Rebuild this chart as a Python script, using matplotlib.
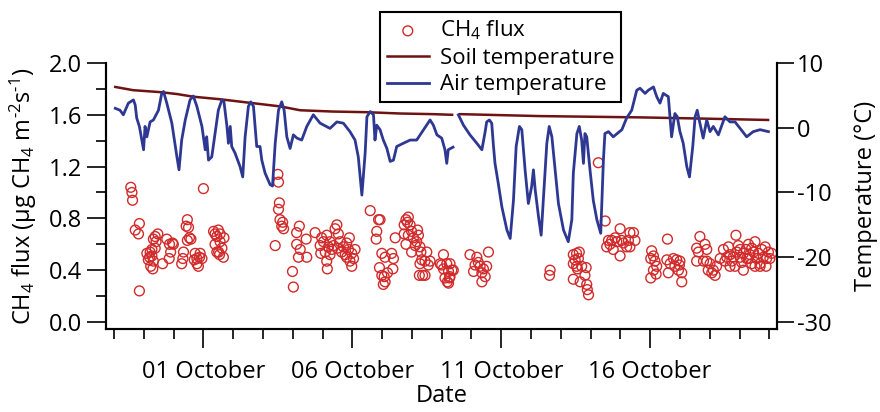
import numpy as np
import matplotlib
matplotlib.use("Agg")
import matplotlib.pyplot as plt
import matplotlib.dates as mdates
from matplotlib.ticker import MultipleLocator

plt.rcParams['font.family'] = ['Open Sans', 'DejaVu Sans']
plt.rcParams['mathtext.fontset'] = 'custom'
plt.rcParams['mathtext.rm'] = 'Open Sans'
plt.rcParams['mathtext.it'] = 'Open Sans:italic'
plt.rcParams['mathtext.bf'] = 'Open Sans:bold'

# ---- data (days counted from 30 September; 1 = 01 October) ----
soil_day = [-1.96, -1.36, -0.45, 0.12, 0.65, 1.56, 2.47, 3.57, 4.25, 5.35, 6.49, 7.60, 8.71, 9.35,
            np.nan, 9.62, 12.30, 15.66, 17.91, 19.96]
soil_temp = [6.3, 5.8, 5.5, 5.2, 4.8, 4.4, 3.9, 3.3, 2.7, 2.5, 2.4, 2.2, 2.1, 2.0,
             np.nan, 2.1, 1.8, 1.6, 1.4, 1.2]

air_day = [
    -1.96, -1.80, -1.69, -1.52, -1.35, -1.29, -1.24, -1.15, -1.07, -1.01,
    -0.96, -0.90, -0.79, -0.68, -0.51, -0.40, -0.34, -0.23, -0.06, 0.11,
    0.18, 0.27, 0.39, 0.55, 0.66, 0.78, 0.95, 1.06, 1.11, 1.17,
    1.28, 1.39, 1.50, 1.62, 1.69, 1.79, 1.84, 1.90, 1.95, 2.06,
    2.23, 2.32, 2.40, 2.51, 2.59, 2.68, 2.79, 2.90, 2.96, 3.07,
    3.24, 3.32, 3.41, 3.52, 3.63, 3.71, 3.80, 3.91, 4.02, 4.14,
    4.30, 4.47, 4.69, 4.92, 5.25, 5.48, 5.70, 5.92, 6.09, 6.20,
    6.32, 6.43, 6.49, 6.60, 6.71, 6.76, 6.82, 6.93, 7.04, 7.16,
    7.27, 7.38, 7.49, 7.71, 7.94, 8.16, 8.39, 8.61, 8.72, 8.84,
    9.00, 9.11, 9.17, 9.22, 9.38, np.nan,
    9.56, 9.73, 9.95, 10.18, 10.35, 10.46, 10.51, 10.60, 10.68, 10.74,
    10.79, 10.90, 11.02, 11.19, 11.30, 11.41, 11.50, 11.61, 11.69, 11.80,
    11.91, 12.02, 12.08, 12.14, 12.25, 12.34, 12.44, 12.53, 12.61, 12.70,
    12.81, 12.92, 13.09, 13.25, 13.37, 13.42, 13.54, 13.62, 13.70, 13.76,
    13.81, 13.87, 13.98, 14.09, 14.21, 14.34, 14.43, 14.48, 14.60, 14.76,
    15.05, 15.21, 15.38, 15.55, 15.66, 15.83, 15.94, 16.11, 16.22, 16.33,
    16.44, 16.61, 16.72, 16.83, 16.91, 17.00, 17.11, 17.23, 17.32, 17.43,
    17.51, 17.58, 17.67, 17.78, 17.90, 18.01, 18.12, 18.29, 18.51, 18.68,
    18.85, 19.02, 19.24, 19.46, 19.69, 19.97]
air_temp = [
    3.0, 2.7, 2.0, 3.8, 4.3, 3.5, 1.5, 0.2, -1.9, -3.4,
    0.2, -1.4, 0.9, 1.2, 2.7, 5.3, 5.6, 3.8, 0.7, -4.5,
    -6.5, -1.9, 1.2, 4.3, 4.9, 3.3, 0.2, -3.4, -1.4, -5.0,
    -4.5, -0.9, 2.7, 4.3, 4.0, 0.2, -2.4, 0.2, -2.9, -3.9,
    -6.0, -7.6, -1.4, 3.3, 4.0, 3.3, -2.9, -2.9, -5.0, -7.0,
    -8.8, -9.0, -2.4, 2.7, 4.0, 2.7, -1.4, -3.2, -1.1, -1.6,
    -1.9, 0.2, 2.0, 0.7, -0.1, 0.9, 0.7, -0.6, -1.9, -4.5,
    -10.4, -3.9, 1.7, 2.5, 2.0, -1.9, 0.4, -0.3, -1.9, -3.2,
    -5.2, -5.0, -2.9, -2.4, -1.9, -1.9, -0.3, 1.2, 0.4, -1.1,
    -1.6, -3.4, -5.5, -3.4, -3.0, np.nan,
    2.0, 0.4, -1.1, -2.4, -3.4, -0.6, 0.9, 1.2, 0.7, -2.9,
    -5.5, -8.6, -12.2, -15.8, -17.1, -11.2, -2.9, 0.2, -0.3, -6.5,
    -11.7, -9.1, -6.5, -9.6, -13.7, -16.6, -9.1, -2.4, 0.2, -1.4,
    -6.5, -11.7, -15.8, -17.6, -14.2, -7.0, -0.9, 0.2, -1.9, -5.5,
    -0.9, -1.4, -6.5, -11.2, -14.2, -16.3, -5.0, -0.9, -0.6, -1.4,
    -0.3, 1.5, 2.7, 5.8, 6.1, 5.3, 5.8, 6.3, 4.8, 3.8,
    5.3, 4.8, -1.4, 2.2, 1.7, -0.6, -2.4, -6.0, -7.6, -2.9,
    1.7, 2.7, 0.7, -1.6, 1.2, -0.6, 0.2, -1.1, 1.7, 0.9,
    0.9, -0.1, -1.4, -0.6, -0.3, -0.6]

flux_day = [
    -1.44, -1.40, -1.38, -1.15, -1.29, -1.18, -1.15,
    -0.79, -0.73, -0.85, -0.68, -0.77, -0.70, -0.90, -0.62, -0.59, -0.68, -0.53, -0.62, -0.23, -0.14, -0.04, -0.10, -0.15, -0.37, -0.81, -0.73, -0.01,
    0.46, 0.42, 0.50, 0.53, 0.46, 0.58, 0.33, 0.31, 0.27, 0.72, 0.78, 0.87, 0.69, 0.83, 0.89, 0.95, 1.00, 0.78,
    1.39, 1.50, 1.56, 1.45, 1.69, 1.39, 1.56, 1.62, 1.45, 1.54, 1.67, 1.51, 1.34,
    3.50, 3.52, 3.55, 3.52, 3.57, 3.66, 3.63, 3.69, 3.41,
    4.22, 4.13, 4.45, 4.13, 4.25, 4.19, 4.47, 3.99, 4.02,
    4.75, 4.97, 5.14, 5.03, 4.92, 5.20, 5.37, 5.48, 5.42, 5.53, 5.59, 5.70, 5.81, 5.90, 5.87, 5.76,
    5.98, 6.04, 5.92, 5.98, 5.25, 5.09, 4.94, 5.14, 5.16, 5.31, 5.64, 5.81, 6.09, 5.50, 5.25,
    6.60, 6.88, 6.93, 6.82, 6.80, 6.99, 7.10, 6.91, 6.99, 7.07, 7.04, 7.10, 7.18, 7.32, 7.38, 7.36, 7.44,
    7.88, 7.80, 7.74, 7.85, 7.94, 7.74, 7.88, 7.99, 8.05, 8.19, 8.22, 8.16, 7.99,
    7.80, 8.11, 8.27, 8.30, 8.50, 8.33, 8.44, 8.55, 8.27, 8.36, 8.44, 8.25, 8.61,
    9.06, 8.95, 9.17, 9.28, 9.39, 9.23, 9.11, 9.26, 9.23, 9.06, 9.00, 9.28, 9.34, 9.19,
    9.95, 10.18, 10.23, 10.12, 10.07, 10.35, 10.40, 10.46, 10.51, 10.57, 10.35, 10.29,
    12.64, 12.62,
    13.42, 13.53, 13.48, 13.59, 13.42, 13.53, 13.70, 13.56, 13.85, 13.81, 13.42, 13.65, 13.87, 13.89, 13.93, 13.62,
    14.26, 14.49, 14.60, 14.54, 14.71, 14.82, 14.88, 14.76, 14.99, 15.04, 14.99, 15.10, 15.27, 15.32, 15.44, 15.49, 15.21, 15.32, 14.65,
    16.05, 16.11, 16.02, 16.16, 16.22, 16.20, 16.02, 16.11,
    16.58, 16.56, 16.67, 16.61, 16.78, 16.89, 16.83, 16.98, 16.95, 17.06, 17.06, 17.00,
    17.67, 17.56, 17.62, 17.84, 17.90, 17.56, 17.79, 17.90, 18.01, 17.95, 18.07, 18.18, 18.12, 18.23, 18.35, 18.46, 18.51, 18.63,
    18.68, 18.74, 18.85, 18.88, 18.91, 18.96, 19.02, 19.07, 19.13, 19.13, 19.22, 19.24, 19.30, 19.35, 19.41, 19.47, 19.52, 19.58,
    19.63, 19.69, 19.75, 19.80, 19.86, 19.91, 19.97, 20.02, 19.89, 19.69, 19.52, 18.68, 18.79, 18.57, 19.02, 19.30, 19.41, 20.08]
flux_val = [
    1.04, 1.00, 0.94, 0.76, 0.71, 0.68, 0.24,
    0.54, 0.51, 0.48, 0.47, 0.43, 0.41, 0.53, 0.57, 0.62, 0.64, 0.68, 0.66, 0.64, 0.60, 0.61, 0.54, 0.49, 0.45, 0.50, 0.56, 0.60,
    0.79, 0.74, 0.73, 0.65, 0.63, 0.64, 0.54, 0.49, 0.45, 0.53, 0.49, 0.50, 0.48, 0.43, 0.53, 0.49, 1.03, 0.45,
    0.68, 0.71, 0.68, 0.66, 0.65, 0.60, 0.62, 0.57, 0.54, 0.52, 0.50, 0.54, 0.70,
    1.14, 1.08, 0.92, 0.87, 0.79, 0.77, 0.74, 0.72, 0.59,
    0.74, 0.69, 0.64, 0.60, 0.56, 0.50, 0.50, 0.39, 0.27,
    0.69, 0.65, 0.67, 0.62, 0.59, 0.58, 0.59, 0.75, 0.72, 0.68, 0.62, 0.58, 0.61, 0.65, 0.56, 0.52,
    0.53, 0.49, 0.47, 0.43, 0.52, 0.54, 0.53, 0.47, 0.41, 0.56, 0.54, 0.50, 0.56, 0.57, 0.62,
    0.86, 0.79, 0.79, 0.70, 0.64, 0.53, 0.50, 0.42, 0.36, 0.35, 0.29, 0.31, 0.38, 0.53, 0.49, 0.41, 0.65,
    0.81, 0.79, 0.75, 0.77, 0.75, 0.68, 0.67, 0.70, 0.65, 0.71, 0.67, 0.62, 0.54,
    0.60, 0.59, 0.58, 0.54, 0.54, 0.48, 0.47, 0.44, 0.45, 0.36, 0.36, 0.36, 0.47,
    0.52, 0.45, 0.45, 0.45, 0.40, 0.39, 0.34, 0.34, 0.30, 0.41, 0.44, 0.35, 0.40, 0.31,
    0.52, 0.50, 0.46, 0.44, 0.39, 0.38, 0.41, 0.35, 0.43, 0.54, 0.31, 0.43,
    0.40, 0.36,
    0.52, 0.53, 0.48, 0.49, 0.45, 0.43, 0.43, 0.41, 0.42, 0.36, 0.33, 0.31, 0.29, 0.25, 0.21, 0.54,
    1.23, 0.78, 0.63, 0.58, 0.63, 0.65, 0.62, 0.56, 0.72, 0.63, 0.51, 0.61, 0.63, 0.69, 0.69, 0.63, 0.58, 0.58, 0.60,
    0.55, 0.51, 0.49, 0.47, 0.43, 0.37, 0.34, 0.40,
    0.64, 0.48, 0.45, 0.38, 0.49, 0.48, 0.43, 0.44, 0.40, 0.38, 0.31, 0.47,
    0.66, 0.57, 0.54, 0.60, 0.56, 0.47, 0.47, 0.47, 0.45, 0.40, 0.38, 0.36, 0.40, 0.43, 0.49, 0.56, 0.47, 0.58,
    0.52, 0.47, 0.43, 0.67, 0.54, 0.59, 0.50, 0.46, 0.40, 0.53, 0.56, 0.49, 0.60, 0.52, 0.45, 0.54, 0.62, 0.49,
    0.53, 0.45, 0.56, 0.50, 0.58, 0.49, 0.54, 0.49, 0.43, 0.43, 0.43, 0.43, 0.50, 0.50, 0.56, 0.49, 0.57, 0.53]

flux_ticks = [0.0, 0.4, 0.8, 1.2, 1.6, 2.0]
temp_ticks = [-30, -20, -10, 0, 10]
date_tick_days = [1, 6, 11, 16]
date_tick_labels = ['01 October', '06 October', '11 October', '16 October']

assert len(air_day) == len(air_temp)
assert len(flux_day) == len(flux_val)
assert len(soil_day) == len(soil_temp)

# ---- plotting ----
x0 = mdates.date2num(np.datetime64('2012-09-30'))
fd = x0 + np.asarray(flux_day, float)
sd = x0 + np.asarray(soil_day, float)
ad = x0 + np.asarray(air_day, float)

FS = 17
fig = plt.figure(figsize=(8.8, 4.12), dpi=100)
ax = fig.add_axes([0.1205, 0.2015, 0.7625, 0.6456])
ax2 = ax.twinx()

sc = ax.scatter(fd, flux_val, s=50, facecolors='none', edgecolors='#d22a2a',
                linewidths=1.0, label='CH$_4$ flux', zorder=3)
l1, = ax2.plot(sd, soil_temp, color='#6e1212', lw=1.8, label='Soil temperature')
l2, = ax2.plot(ad, air_temp, color='#2e3892', lw=2.0, label='Air temperature')

ax.set_xlim(x0 - 2.27, x0 + 20.26)
ax.set_ylim(-0.054, 2.0)
ax2.set_ylim(-31.08, 10)

ax.set_yticks(flux_ticks)
ax.set_yticklabels([f'{v:.1f}' for v in flux_ticks])
ax.yaxis.set_minor_locator(MultipleLocator(0.2))
ax2.set_yticks(temp_ticks)
ax2.set_yticklabels([str(v) for v in temp_ticks])

ax.set_xticks([x0 + d for d in date_tick_days])
ax.set_xticklabels(date_tick_labels)
ax.xaxis.set_minor_locator(mdates.DayLocator())

for a in (ax, ax2):
    a.spines['top'].set_visible(False)
    for s in ('left', 'right', 'bottom'):
        a.spines[s].set_linewidth(1.5)
ax.tick_params(axis='both', which='major', direction='out', length=14, width=1.2,
               labelsize=FS, pad=3)
ax.tick_params(axis='both', which='minor', direction='out', length=7, width=1.2)
ax.tick_params(axis='x', which='major', pad=8)
ax2.tick_params(axis='y', which='major', direction='out', length=12.5, width=1.2,
                labelsize=FS, pad=2)

ax.set_xlabel('Date', fontsize=FS, labelpad=0)
ax.set_ylabel('CH$_4$ flux (µg CH$_4$ m$^{\\text{-2}}$s$^{\\text{-1}}$)', fontsize=FS, labelpad=7)
ax2.set_ylabel('Temperature (°C)', fontsize=FS, labelpad=16)

leg = fig.legend(handles=[sc, l1, l2], loc='upper left',
                 bbox_to_anchor=(380 / 880, 1 - 12 / 412), frameon=True,
                 fancybox=False, edgecolor='black', framealpha=1, fontsize=16,
                 borderpad=0.3, labelspacing=0.25, handlelength=1.9,
                 handletextpad=0.5, borderaxespad=0)
leg.get_frame().set_linewidth(1.5)

fig.savefig('out.png', dpi=100)
